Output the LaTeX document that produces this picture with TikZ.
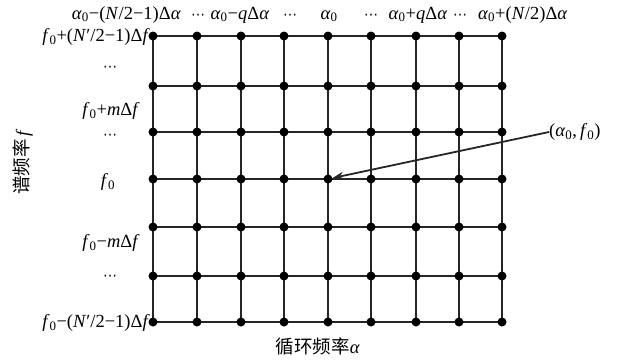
\documentclass[tikz,border=0pt]{standalone}
\usepackage{fontspec}
\setmainfont{Liberation Serif}
\newfontfamily\cjk{Noto Sans CJK SC}
\newfontfamily\dv{DejaVu Sans}
\usetikzlibrary{arrows.meta}
\newcommand{\ala}{\textit{α}}
\newcommand{\eff}{\textit{f}}
\newcommand{\zs}{\textsubscript{0}}
\newcommand{\cdts}{{\dv\fontsize{14}{16}\selectfont ⋯}}
\tikzset{
  dot/.style={circle,fill=black,inner sep=0pt,minimum size=9pt},
  gridline/.style={draw=black!85,line width=2pt},
  lab/.style={font=\fontsize{18.5}{20}\selectfont,inner sep=0pt},
  arr/.style={draw=black!85,line width=1.8pt,-{Stealth[length=11pt,width=8pt]}}
}
\begin{document}
\begin{tikzpicture}[x=1pt,y=-1pt]
\useasboundingbox (0,0) rectangle (617,360);
% grid points
\foreach \i/\xx in {1/153,2/197,3/241,4/284,5/328,6/371,7/416,8/459,9/502}{
  \foreach \j/\yy in {1/36,2/86,3/132,4/179,5/227,6/276,7/322}{
    \coordinate (c-\i-\j) at (\xx,\yy);
  }
}
\foreach \j in {1,...,7}{\draw[gridline] (c-1-\j) -- (c-9-\j);}
\foreach \i in {1,...,9}{\draw[gridline] (c-\i-1) -- (c-\i-7);}
\foreach \i in {1,...,9}{
  \foreach \j in {1,...,7}{
    \node[dot] (p-\i-\j) at (c-\i-\j) {};
  }
}
% top labels
\node[lab,anchor=base east] (t1) at (181,19) {\ala\zs−(\textit{N}/2−1)Δ\ala};
\node[lab,anchor=base] (t2) at (198,19) {\cdts};
\node[lab,anchor=base] (t3) at (240,19) {\ala\zs−\textit{q}Δ\ala};
\node[lab,anchor=base] (t4) at (290,19) {\cdts};
\node[lab,anchor=base] (t5) at (329,19) {\ala\zs};
\node[lab,anchor=base] (t6) at (371,19) {\cdts};
\node[lab,anchor=base] (t7) at (418,19) {\ala\zs+\textit{q}Δ\ala};
\node[lab,anchor=base] (t8) at (460,19) {\cdts};
\node[lab,anchor=base west] (t9) at (478,19) {\ala\zs+(\textit{N}/2)Δ\ala};
% left labels
\node[lab,anchor=east] (l1) at (150,37) {\eff\zs+(\textit{N}′/2−1)Δ\eff};
\node[lab] (l2) at (110,69) {\cdts};
\node[lab] (l3) at (111,111) {\eff\zs+\textit{m}Δ\eff};
\node[lab] (l4) at (110,137) {\cdts};
\node[lab] (l5) at (108,182) {\eff\zs};
\node[lab] (l6) at (111,243) {\eff\zs−\textit{m}Δ\eff};
\node[lab] (l7) at (110,278) {\cdts};
\node[lab,anchor=east] (l8) at (150,323) {\eff\zs−(\textit{N}′/2−1)Δ\eff};
% axis labels
\node[lab,rotate=90] (ylab) at (23,162) {{\cjk 谱频率}\,\eff};
\node[lab] (xlab) at (318,346) {{\cjk 循环频率}\ala};
% point label and arrow
\node[lab,anchor=west] (pl) at (549,132) {(\ala\zs,\,\eff\zs)};
\draw[arr] (pl.west) -- (p-5-4);
\end{tikzpicture}
\end{document}
